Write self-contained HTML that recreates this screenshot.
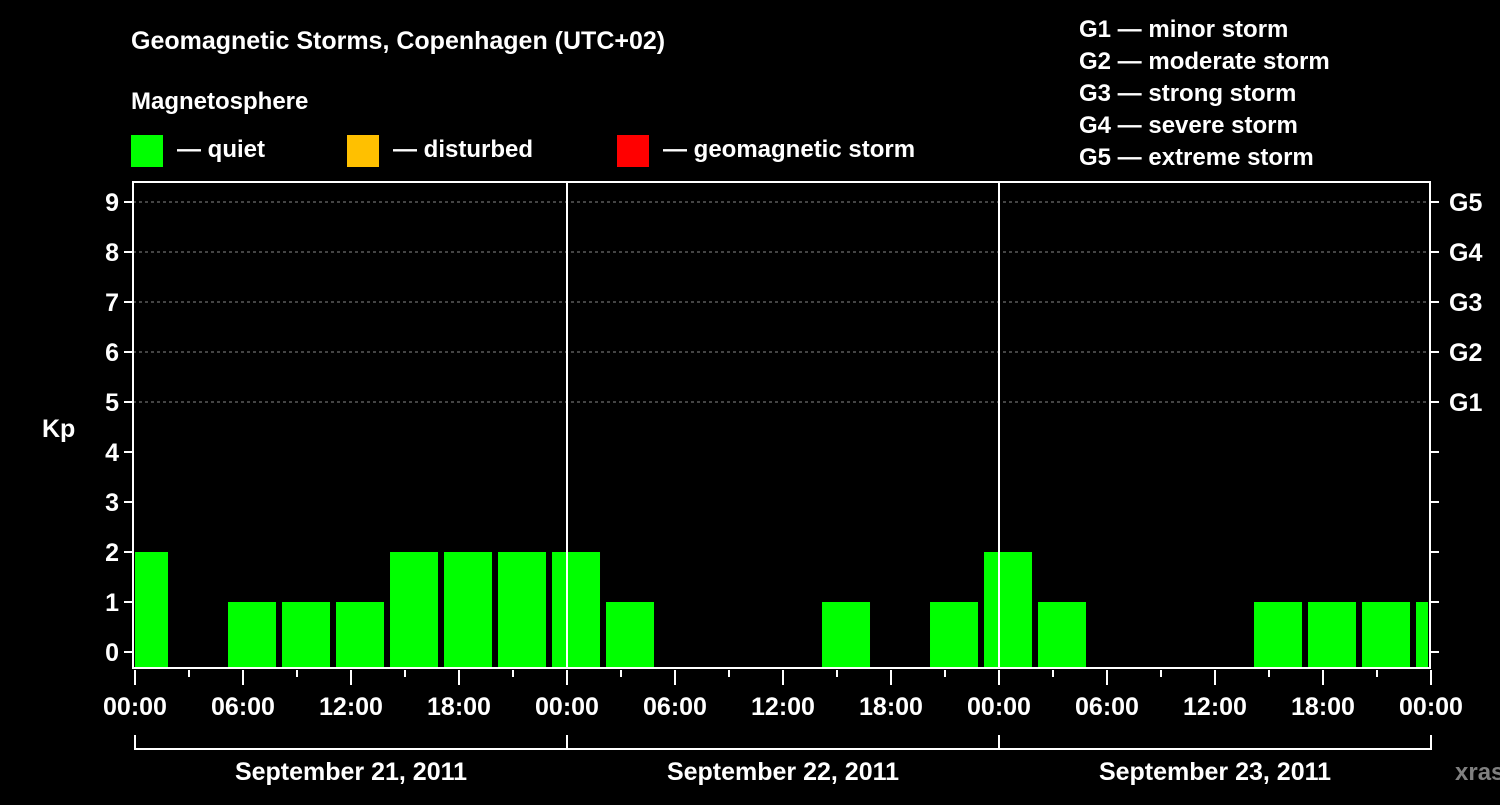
<!DOCTYPE html>
<html><head><meta charset="utf-8"><style>
body{margin:0;background:#000;width:1500px;height:800px;overflow:hidden;font-family:"Liberation Sans",Arial,sans-serif}
text{font-family:"Liberation Sans",Arial,sans-serif;font-weight:bold;fill:#fff}
</style></head><body>
<svg id="c" width="1500" height="800">
<text x="131" y="49" font-size="25">Geomagnetic Storms, Copenhagen (UTC+02)</text>
<text x="131" y="109" font-size="24">Magnetosphere</text>
<rect x="131" y="135" width="32" height="32" fill="#00ff00"/>
<text x="177" y="157" font-size="24">— quiet</text>
<rect x="347" y="135" width="32" height="32" fill="#ffc000"/>
<text x="393" y="157" font-size="24">— disturbed</text>
<rect x="617" y="135" width="32" height="32" fill="#ff0000"/>
<text x="663" y="157" font-size="24">— geomagnetic storm</text>
<g font-size="24">
<text x="1079" y="37">G1 — minor storm</text>
<text x="1079" y="69">G2 — moderate storm</text>
<text x="1079" y="101">G3 — strong storm</text>
<text x="1079" y="133">G4 — severe storm</text>
<text x="1079" y="165">G5 — extreme storm</text>
</g>
<text x="42" y="437" font-size="25">Kp</text>
<g id="g"></g>
<text x="1455" y="780" font-size="24" style="fill:#808080">xras.ru</text>
</svg>
<script>
const kpValues=[2,0,1,1,1,2,2,2,2,1,0,0,0,1,0,1,2,1,0,0,0,1,1,1,1];
const yTicks=[0,1,2,3,4,5,6,7,8,9];
const gLabels=["G1","G2","G3","G4","G5"];
const xLabels=["00:00","06:00","12:00","18:00","00:00","06:00","12:00","18:00","00:00","06:00","12:00","18:00","00:00"];
const dayLabels=["September 21, 2011","September 22, 2011","September 23, 2011"];
const L=133,R=1430,T=182,B=668,X0=135,PX_H=18;
const x=h=>X0+h*PX_H;            // hours since start -> px
const y=v=>652-v*50;
const g=document.getElementById('g');const NS='http://www.w3.org/2000/svg';
function mk(t,a){const e=document.createElementNS(NS,t);for(const k in a)e.setAttribute(k,a[k]);g.appendChild(e);return e;}
// grid
for(let v=5;v<=9;v++){const e=mk('line',{x1:L,x2:R,y1:y(v),y2:y(v),stroke:'#888','stroke-dasharray':'3,3','stroke-width':1});

}
// bars
kpValues.forEach((v,i)=>{if(v<=0)return;let x1=x(i*3-0.833),x2=x1+48;x1=Math.max(x1,X0);x2=Math.min(x2,R-2);
const e=mk('rect',{x:x1,y:y(v),width:x2-x1,height:667-y(v),fill:'#00ff00'});

});
// day separators
for(let d=1;d<3;d++){const e=mk('line',{x1:x(d*24),x2:x(d*24),y1:T,y2:B,stroke:'#fff','stroke-width':2});

}
// frame
const fr=mk('rect',{x:L,y:T,width:R-L,height:B-T,fill:'none',stroke:'#fff','stroke-width':2});


// y ticks
yTicks.forEach(v=>{mk('line',{x1:L-9,x2:L,y1:y(v),y2:y(v),stroke:'#fff','stroke-width':2});
mk('line',{x1:R,x2:R+9,y1:y(v),y2:y(v),stroke:'#fff','stroke-width':2});
const t=mk('text',{x:L-14,y:y(v)+9,'font-size':25,'text-anchor':'end'});t.textContent=v;

});
gLabels.forEach((s,i)=>{const t=mk('text',{x:1449,y:y(5+i)+9,'font-size':25});t.textContent=s;

});
// x ticks
for(let h=0;h<=72;h+=3){const xx=x(h);mk('line',{x1:xx,x2:xx,y1:B+2,y2:h%6?677:685,stroke:'#fff','stroke-width':2});}
xLabels.forEach((s,i)=>{const t=mk('text',{x:x(i*6),y:715,'font-size':25,'text-anchor':'middle'});t.textContent=s;

});
// day bracket
mk('line',{x1:x(0),x2:x(72),y1:749,y2:749,stroke:'#fff','stroke-width':2});
for(let d=0;d<=3;d++)mk('line',{x1:x(d*24),x2:x(d*24),y1:735,y2:750,stroke:'#fff','stroke-width':2});
dayLabels.forEach((s,i)=>{const t=mk('text',{x:x(i*24+12),y:780,'font-size':25,'text-anchor':'middle'});t.textContent=s;

});
</script>
</body></html>
